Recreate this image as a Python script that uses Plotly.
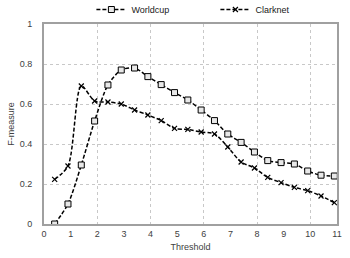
import plotly.graph_objects as go

thresholds = [0.4, 0.9, 1.4, 1.9, 2.4, 2.9, 3.4, 3.9, 4.4, 4.9, 5.4, 5.9,
              6.4, 6.9, 7.4, 7.9, 8.4, 8.9, 9.4, 9.9, 10.4, 10.9]
worldcup = [0.0, 0.10, 0.295, 0.515, 0.695, 0.77, 0.78, 0.737, 0.697, 0.657, 0.62,
            0.57, 0.517, 0.45, 0.408, 0.36, 0.317, 0.307, 0.30, 0.265, 0.244, 0.24]
clarknet = [0.223, 0.29, 0.69, 0.615, 0.61, 0.60, 0.57, 0.545, 0.517, 0.478, 0.473,
            0.46, 0.45, 0.385, 0.31, 0.28, 0.233, 0.207, 0.183, 0.167, 0.14, 0.107]
x_ticks = list(range(0, 12))
x_grid = [2, 4, 6, 8, 10]
y_ticks = [0, 0.2, 0.4, 0.6, 0.8, 1]
y_tick_labels = ["0", "0.2", "0.4", "0.6", "0.8", "1"]

font = dict(family="Liberation Sans", size=9, color="#404040")

fig = go.Figure()
fig.add_trace(go.Scatter(
    x=thresholds, y=worldcup, name="Worldcup", mode="lines+markers",
    line=dict(color="black", width=1.5, dash="4px,2px", shape="spline", smoothing=0.8),
    marker=dict(symbol="square", size=6, color="#e8e8e8", line=dict(color="black", width=1)),
))
fig.add_trace(go.Scatter(
    x=thresholds, y=clarknet, name="Clarknet", mode="lines+markers",
    line=dict(color="black", width=1.5, dash="4px,2px", shape="spline", smoothing=0.8),
    marker=dict(symbol="x-thin", size=5, color="black", line=dict(color="black", width=1.2)),
))
# invisible trace on overlay axis for vertical gridlines every 2
fig.add_trace(go.Scatter(x=[0, 11], y=[0, 1], xaxis="x2", mode="markers",
                         marker=dict(opacity=0), showlegend=False, hoverinfo="skip"))

fig.update_layout(
    width=350, height=258,
    margin=dict(l=44, r=13, t=24, b=34, autoexpand=False),
    paper_bgcolor="white", plot_bgcolor="white",
    font=font,
    showlegend=True,
    legend=dict(orientation="h", x=0.585, xanchor="center", y=1.0, yanchor="bottom",
                font=dict(family="Liberation Sans", size=9, color="#202020"),
                entrywidth=79, itemwidth=30, bgcolor="rgba(0,0,0,0)"),
    xaxis=dict(range=[0, 11], tickvals=x_ticks, ticktext=[str(v) for v in x_ticks],
               showgrid=False, zeroline=False, showline=True, linecolor="#a0a0a0",
               linewidth=2, mirror=True, ticks="", tickfont=font, automargin=False,
               title=dict(text="Threshold", font=font, standoff=6)),
    xaxis2=dict(range=[0, 11], overlaying="x", tickmode="array", tickvals=x_grid,
                showgrid=True, gridcolor="#c8c8c8", griddash="dot", gridwidth=1,
                showticklabels=False, zeroline=False, showline=False, ticks="",
                automargin=False),
    yaxis=dict(range=[0, 1], tickvals=y_ticks, ticktext=y_tick_labels,
               showgrid=True, gridcolor="#c8c8c8", griddash="dot", gridwidth=1,
               zeroline=False, showline=True, linecolor="#a0a0a0", linewidth=2,
               mirror=True, ticks="", tickfont=font, ticklabelstandoff=8, automargin=False,
               title=dict(text="F-measure", font=font, standoff=4)),
)
fig.write_html("out.html", config={"displayModeBar": False},
               post_script="document.body.style.margin='0';")
